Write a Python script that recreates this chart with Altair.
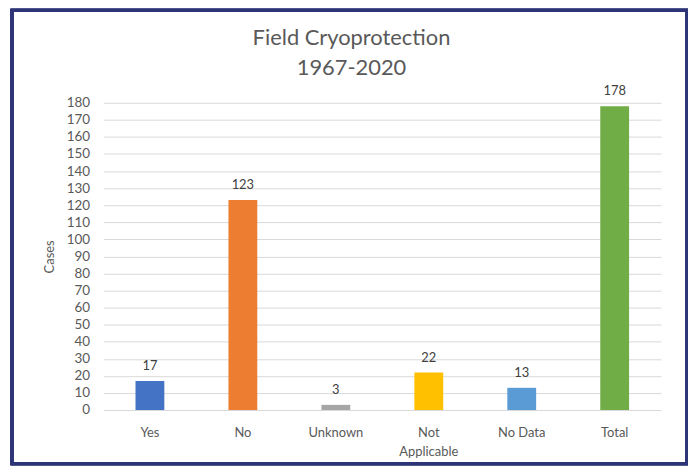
import altair as alt
import pandas as pd

categories = ["Yes", "No", "Unknown", "Not Applicable", "No Data", "Total"]
cases = [17, 123, 3, 22, 13, 178]
colors = ["#4472c4", "#ed7d31", "#a5a5a5", "#ffc000", "#5b9bd5", "#70ad47"]
y_ticks = list(range(0, 181, 10))

df = pd.DataFrame({"category": categories, "cases": cases})

FONT = "Lato"
GREY = "#595959"

x = alt.X("category:N", sort=categories, title=None,
          scale=alt.Scale(paddingInner=0.0, paddingOuter=0.0),
          axis=alt.Axis(labelAngle=0, labelFontSize=13, labelColor=GREY, labelFont=FONT,
                        domain=False, ticks=False, labelPadding=17, labelLineHeight=19,
                        labelExpr="datum.label == 'Not Applicable' ? ['Not', 'Applicable'] : datum.label"))
y = alt.Y("cases:Q", title="Cases",
          scale=alt.Scale(domain=[0, 180], nice=False),
          axis=alt.Axis(values=y_ticks, labelFontSize=13.5, labelColor=GREY,
                        labelFont=FONT, domain=False, ticks=False, labelPadding=14,
                        labelOverlap=False,
                        gridColor="#d9d9d9", gridWidth=1,
                        titleFontSize=13, titleColor=GREY, titleFont=FONT,
                        titleFontWeight="normal", titlePadding=10))

base = alt.Chart(df).encode(x=x, y=y)

bars = base.mark_bar(size=29).encode(
    color=alt.Color("category:N", scale=alt.Scale(domain=categories, range=colors), legend=None),
)

labels = base.mark_text(baseline="bottom", dy=-8, fontSize=13, color="#404040", font=FONT).encode(
    text="cases:Q",
)

frame = alt.Chart(df).mark_rect(filled=False, stroke="#2e3577", strokeWidth=3).encode(
    x=alt.value(-92), x2=alt.value(587), y=alt.value(-93), y2=alt.value(363)
)

chart = alt.layer(bars, labels, frame).properties(
    width=561, height=309,
    autosize=alt.AutoSizeParams(type="none"),
    padding={"left": 96, "top": 94, "right": 27, "bottom": 59},
    title=alt.TitleParams(["Field Cryoprotection", "1967-2020"], fontSize=22, font=FONT,
                          fontWeight="normal", color=GREY, anchor="middle", dx=-31,
                          frame="group", offset=0, baseline="bottom", dy=94, lineHeight=31),
).configure_view(stroke=None)

chart.save("out.html", embed_options={"renderer": "svg", "actions": False})
